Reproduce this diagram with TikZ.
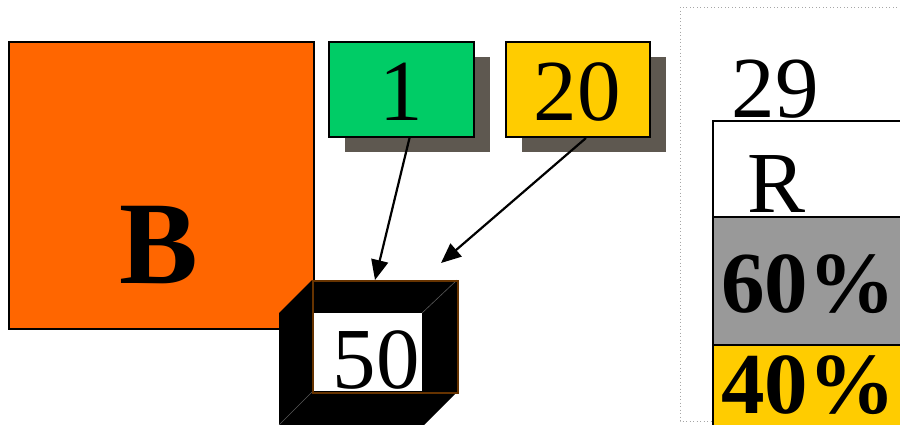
\documentclass[tikz,border=0pt]{standalone}
\usepackage{fontspec}
\setmainfont{Liberation Serif}
\usetikzlibrary{arrows.meta,shadows}
\definecolor{orangeB}{HTML}{FF6600}
\definecolor{greenbox}{HTML}{00CC66}
\definecolor{yellowbox}{HTML}{FFCC00}
\definecolor{shadowc}{HTML}{5E5850}
\definecolor{framebrown}{HTML}{663300}
\definecolor{rowgray}{HTML}{999999}
\newcommand{\bigtxt}{\fontsize{87}{87}\selectfont}
\newcommand{\hugetxt}{\fontsize{118}{118}\selectfont\bfseries}
\tikzset{
  box/.style={draw=black,line width=2pt,inner sep=0pt,anchor=north west},
  shbox/.style={box,drop shadow={shadow xshift=16pt,shadow yshift=-15pt,fill=shadowc,opacity=1}},
  lbl/.style={inner sep=0pt,anchor=base,font=\bigtxt},
  arr/.style={->,line width=2.2pt}
}

\begin{document}
\begin{tikzpicture}[x=1pt,y=-1pt,>={Triangle[length=20pt,width=17pt]}]
                \useasboundingbox (0,0) rectangle (900,424);
                \clip (0,0) rectangle (900,424);
                % The big box
                \node[box,fill=orangeB,minimum width=305pt,minimum height=287pt] (bbox) at (8,41) {};
                \node[lbl,font=\hugetxt] (btxt) at (159,283) {B};
                % The two small boxes
                \node[shbox,fill=greenbox,minimum width=145pt,minimum height=95pt] (one) at (328,41) {};
                \node[lbl] (onetxt) at (401,120) {1};
                \node[shbox,fill=yellowbox,minimum width=144pt,minimum height=95pt] (twenty) at (505,41) {};
                \node[lbl] (twentytxt) at (577,120) {20};
                % The frame
                \fill[black] (312,280) -- (457,280) -- (457,392) -- (424,425) -- (279,425) -- (279,313) -- cycle;
                \fill[white] (313,313) rectangle (422,391);
                \draw[black!65,line width=0.6pt] (457,280) -- (422,313) (312,392) -- (279,425);
                \node[draw=framebrown,line width=2pt,inner sep=0pt,anchor=north west,
                      minimum width=145pt,minimum height=112pt] (fifty) at (312,280) {};
                \node[lbl] (fiftytxt) at (376,388) {50};
                % The table on the right
                \draw[gray!70,line width=1pt,dash pattern=on 1pt off 2.5pt] (680,7) rectangle (910,421);
                \node[lbl] (ntxt) at (775,117) {29};
                \node[box,fill=white,minimum width=200pt,minimum height=96pt] (rrow) at (712,120) {};
                \node[lbl] (rtxt) at (777,212) {R};
                \node[box,fill=rowgray,minimum width=200pt,minimum height=128pt] (sixty) at (712,216) {};
                \node[lbl,font=\bigtxt\bfseries] (sixtytxt) at (808,312) {60\%};
                \node[box,fill=yellowbox,minimum width=200pt,minimum height=90pt] (forty) at (712,344) {};
                \node[lbl,font=\bigtxt\bfseries] (fortytxt) at (808,413) {40\%};
                % The arrows
                \coordinate (tipone) at (375,280);
                \coordinate (tiptwenty) at (441,263);
                \draw[arr] ([xshift=8pt]one.south) -- (tipone);
                \draw[arr] ([xshift=8pt]twenty.south) -- (tiptwenty);
\end{tikzpicture}
\end{document}
